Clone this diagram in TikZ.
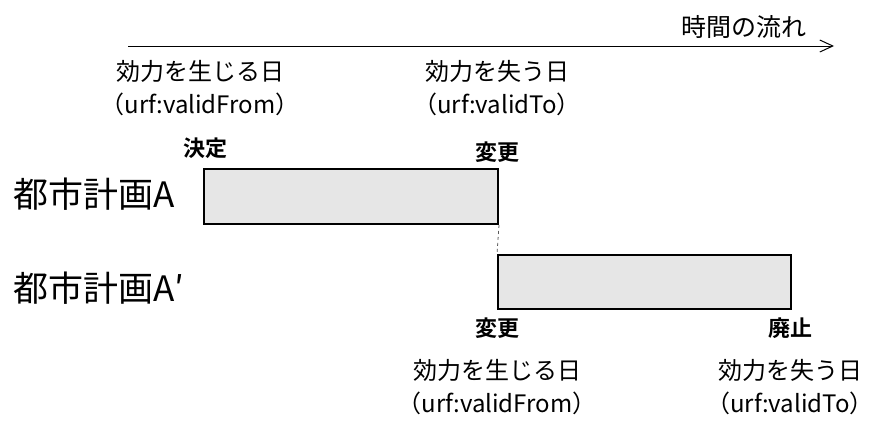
\documentclass[tikz,border=0pt]{standalone}
\usepackage{fontspec}
\setmainfont{Noto Sans CJK JP}[BoldFont={Noto Sans CJK JP Bold}]
\usetikzlibrary{arrows.meta,positioning}
\definecolor{barfill}{RGB}{230,230,230}
\definecolor{linkgray}{RGB}{90,90,90}

\begin{document}
\begin{tikzpicture}[x=1pt,y=-1pt,
  bar/.style={draw=black,line width=2pt,fill=barfill,inner sep=0pt},
  datelbl/.style={align=center,font=\fontsize{24}{33}\selectfont,inner sep=0pt},
  eventlbl/.style={font=\fontsize{22}{22}\selectfont\bfseries,inner sep=0pt},
  citylbl/.style={font=\fontsize{35}{35}\selectfont,inner sep=0pt}]
\useasboundingbox (0,0) rectangle (880,432);
% time axis
\coordinate (tstart) at (128,46);
\coordinate (tend) at (834,46);
\draw[line width=1pt,-{Straight Barb[length=13pt,width=12pt,line width=1pt]}] (tstart)--(tend);
\node[font=\fontsize{25}{25}\selectfont,inner sep=0pt] (flow) at (744,27) {時間の流れ};
% the two plans
\node[bar,minimum width=294pt,minimum height=55pt] (barA) at (351,196.5) {};
\node[bar,minimum width=293pt,minimum height=54pt] (barB) at (644.5,282) {};
\draw[linkgray,dashed,line width=.8pt] (barA.south east)--(barB.north west);
\node[citylbl,anchor=west] (cityA) at (13,194) {都市計画A};
\node[citylbl,anchor=west] (cityB) at (13,288) {都市計画A′};
% events
\node[eventlbl] (kettei) at (205,148) {決定};
\node[eventlbl] (henkoA) at (497,152) {変更};
\node[eventlbl] (henkoB) at (497,328) {変更};
\node[eventlbl] (haishi) at (790,328) {廃止};
% dates
\node[datelbl] (fromA) at (200,88) {効力を生じる日\\（urf:validFrom）};
\node[datelbl] (toA) at (497,88) {効力を失う日\\（urf:validTo）};
\node[datelbl] (fromB) at (497,387) {効力を生じる日\\（urf:validFrom）};
\node[datelbl] (toB) at (790,387) {効力を失う日\\（urf:validTo）};
\end{tikzpicture}
\end{document}
